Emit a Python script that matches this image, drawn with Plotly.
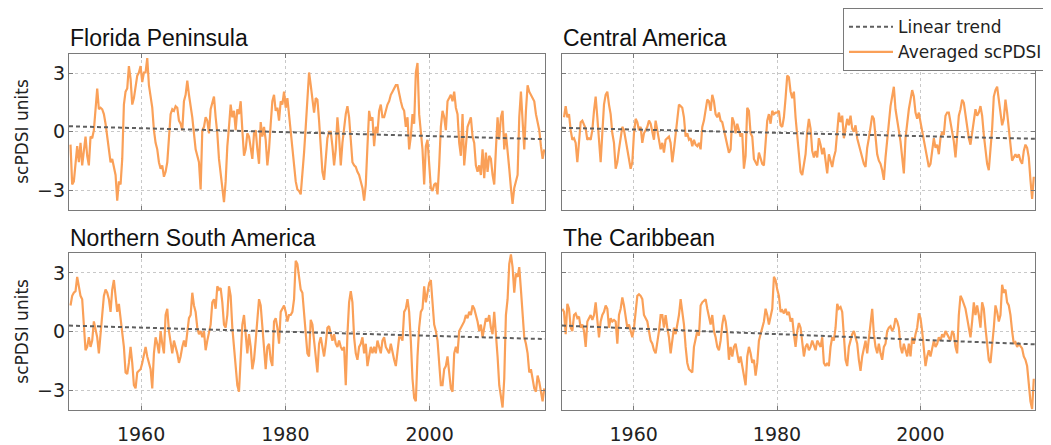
import numpy as np
import plotly.graph_objects as go

# ---------------- data ----------------
years_range = [1950, 2016]
x_ticks = [1960, 1980, 2000]
y_ticks = [-3, 0, 3]
y_ticktext = ["\u22123", "0", "3"]

panel_titles = ["Florida Peninsula", "Central America",
                "Northern South America", "The Caribbean"]

# first / last sample time (decimal year) of each averaged scPDSI series
florida_span = [1950.21, 2015.9]
central_span = [1950.28, 2015.83]
nsa_span = [1950.21, 2015.9]
carib_span = [1950.05, 2015.83]

florida_vals = [
    -0.66, -2.7, -2.54, -1.39, -0.74, -1.56, -0.57, -1.72, -0.9, -0.25, -1.23, -1.72, -0.25, -0.33, 0.08,
    1.15, 2.21, 1.15, 1.23, 1.15, 0.9, 0.41, -0.25, -1.15, -1.56, -1.39, -1.89, -2.21, -3.52, -2.54, -2.7,
    -1.39, 1.39, 2.05, 2.21, 3.36, 2.7, 1.39, 1.72, 2.21, 2.87, 3.03, 3.36, 2.54, 3.03, 3.03, 3.77, 2.38,
    1.89, 1.23, 0.08, -0.57, -0.9, -1.56, -1.89, -1.72, -2.3, -2.05, -1.56, -0.08, 0.9, 1.15, 1.07, 1.31,
    1.23, 0.57, 0.41, 0.08, 1.56, 1.89, 2.62, 1.89, 1.39, 0.74, -0.08, -0.9, -1.23, -1.56, -2.95, 0.08,
    0.25, 0.74, 0.57, -0.08, 1.15, 1.56, 1.8, 0.74, -0.08, -1.39, -2.21, -3.03, -3.6, -2.54, -0.74, 0.25,
    1.39, 0.74, 1.07, 0.08, 1.15, 0.9, 1.56, 0.08, -1.23, -0.9, -0.08, -0.25, -0.74, -1.39, -0.08, 0.08,
    -0.9, -1.64, 0.49, -0.25, 0.25, -0.41, -1.72, -0.9, 0.41, 1.56, 1.89, 1.07, 1.23, 0.57, 1.56, 1.39,
    2.05, 1.23, 1.72, 0.9, -0.08, -0.9, -1.89, -2.54, -2.95, -3.03, -3.2, -2.21, -1.07, 0.25, 1.56, 3.03,
    2.38, 1.56, 0.98, 1.72, 1.64, 0.57, -0.57, -2.05, -2.46, -1.23, -0.33, 0.0, 0.0, -0.74, -1.72, -0.9,
    0.74, -0.25, -1.72, -0.57, 0.25, 0.9, 1.31, 0.74, -0.41, -1.56, -1.72, -1.8, -2.05, -2.21, -2.54,
    -2.87, -3.52, -2.7, -0.74, 1.07, 0.57, 0.74, -0.74, 0.25, -0.08, 1.07, 1.39, 0.74, 0.74, 1.07, 1.39,
    1.56, 1.89, 2.05, 2.21, 2.38, 2.38, 1.89, 1.56, 1.23, 1.07, 0.25, 0.74, -0.9, -0.25, 0.9, 0.41, 3.03,
    3.52, 0.9, -0.08, -0.9, -2.7, -0.74, -0.41, -1.72, -2.87, -3.03, -2.7, -2.62, -3.2, -1.72, 0.25, 1.07,
    0.74, 0.08, 1.56, 1.72, 1.89, 1.56, 2.05, 1.23, 0.9, -0.57, -1.23, 0.9, -1.72, -0.74, 0.25, 0.49,
    0.74, -0.25, -0.57, -1.72, -2.05, -1.72, -2.21, -0.9, -2.38, -1.07, -2.05, -1.23, -1.39, -2.21, -2.7,
    -0.9, 0.74, -0.41, 0.74, 1.07, -0.9, -0.08, -1.23, -1.89, -2.87, -3.69, -2.87, -2.54, -2.21, 0.74,
    2.05, 0.57, -0.9, 1.07, 2.38, 2.05, 1.89, 1.72, 1.56, 0.9, 0.41, 0.08, -0.74, -1.39, -0.9,
]

central_vals = [
    0.74, 1.31, 0.74, 0.9, 0.08, -0.41, -0.33, -0.57, -1.56, -0.57, 0.49, 0.57, 0.33, 0.16, -0.41, -0.33,
    -0.41, 0.08, 1.07, 1.8, 0.74, -0.41, -1.56, -0.08, 1.39, 1.89, 2.05, 1.39, 0.9, -0.08, -0.57, -1.89,
    -1.56, -0.9, -0.25, 0.25, 0.08, -0.41, -0.9, -1.39, -1.89, -1.56, -0.08, 0.66, 0.49, 0.08, 0.25,
    -0.57, -0.08, 0.08, 0.25, 0.57, 0.41, 0.0, -0.41, 0.57, 0.08, -0.25, -0.9, -0.57, -1.07, -0.41, -0.33,
    -0.25, -0.57, -1.56, -0.9, -0.08, 0.74, 1.39, 1.31, 1.23, 0.74, -0.25, -0.08, -0.41, -0.33, -0.74,
    -0.41, -0.66, -0.74, -0.57, -0.9, 0.25, 0.57, 1.07, 1.64, 1.56, 1.07, 1.89, 1.56, 0.9, 0.74, 0.98,
    0.57, 0.49, 0.08, -0.41, -0.74, -1.07, -0.9, 0.74, 0.49, -0.08, 0.41, 0.08, -0.25, -0.08, -1.89,
    -1.23, 1.23, 1.07, -0.08, -0.25, -1.39, -1.56, -1.72, -1.07, -1.39, -1.64, -1.72, -0.25, 0.57, 0.9,
    0.41, 1.07, 0.9, 0.98, 0.98, 1.07, 0.33, 0.25, 0.74, 1.72, 2.87, 2.79, 2.05, 1.72, 2.05, 0.74, -0.25,
    -1.23, -2.05, -2.21, -1.56,
    -1.15, 0.0, 0.66, 0.16, -0.98, -1.31, -0.98, -1.31, -0.33, -0.66, -1.15, -0.82, -1.64, -2.13, -1.15,
    -1.48, -1.8, -1.31, -0.98, 0.0, 0.98, 0.49, 0.82, -0.33, 0.16, 0.66, 0.33, 0.82, 0.16, 0.0, 0.33,
    -0.33, -0.66, -0.98, -1.31, -1.64, -1.8, -0.82, -0.33, 0.33, 0.82, 0.66, -0.33, -1.15, -1.48, -1.64,
    -1.97, -2.46, -1.31, -0.33, 0.66, 1.31, 1.8, 2.3, 1.15, 0.66, 0.0, -0.49, -1.31, -2.13, -0.33, 0.49,
    1.15, 1.64, 2.13, 1.8, 0.98, 0.66, 0.98, 0.49, 0.0, -0.49, -0.82, -1.31, -1.8, -1.64, -0.98, -0.33,
    -0.82, -0.66, -1.15, -0.33, 0.0, -0.16, 0.82, 0.98, 0.98, 0.49, 0.0, -0.49, -1.31, 0.0, 0.82, 1.15,
    1.64, 1.48, 0.82, 0.33, -0.33, -0.66, 0.0, 0.66, 1.15, 0.82, 0.98, 1.31, 0.82, -0.16, -0.82, -1.64,
    -1.97, -0.98, 0.16, 1.8, 2.13, 2.3, 1.64, 0.98, 0.33, 0.66, 1.64, 0.98, 0.16, -0.33, -1.48, -1.31,
    -1.15, -1.31, -1.15, -1.48, -1.64, -0.98, -0.66, -0.82, -1.31, -2.46, -3.44, -2.3,
]

nsa_vals = [
    1.34, 1.83, 1.99, 2.07, 2.8, 2.32, 1.83, 1.66, 0.03, -0.95, -0.78, -0.29, -0.78, -0.46, 0.52, 0.03,
    -0.29, -1.11, -0.29, 0.85, 1.83, 2.15, 1.99, 1.66, 1.01, 2.15, 2.64, 1.66, 1.01, 1.42, 0.69, 0.03,
    -0.78, -2.09, -2.17, -1.6, -0.78, -1.6, -2.74, -2.9, -2.09, -2.0, -1.92, -1.6, -1.11, -0.78, -1.27,
    -1.6, -1.92, -2.9, -1.11, -0.29, -0.62, -1.11, 0.03, -0.62, -1.11, 0.85, 1.17, 0.03, -0.62, -1.11,
    -0.46, -0.78, -1.11, -1.6, -1.27, -0.78, -0.46, -0.78, -0.13, 0.69, 0.85, 1.99, 1.34, 1.01, 0.2,
    -0.13, 0.03, -0.29, 0.03, -0.95, -0.46, 0.03, 0.36, 1.5, 1.66, 1.17, 2.32, 2.15, 2.23, 1.5, 0.36,
    0.2, 0.85, 2.32, 1.83, 0.2, -0.78, -1.92, -2.74, -3.07, -1.27, 0.36, 0.85, -0.13, -1.11, -0.13,
    -0.78, -1.92, -1.44, -0.46, 0.85, 1.66, 1.34, 0.36, -0.95, -1.92, -0.78, -0.62, -1.44, -1.76, 0.52,
    0.69, 0.2, -0.62, 1.01, 1.17, 1.34, 1.01, 0.52, 0.85, 0.85, 1.01, 1.66, 3.62, 3.46, 2.8, 2.15, 1.99,
    0.85, -0.46, -1.11, -1.27,
    0.6, 0.36, -0.46, -1.11, -2.09, -0.62, -0.29, -0.78, -1.27, -0.62, 0.2, 0.28, -0.13, -0.46, -0.13,
    -0.62, -0.78, -0.46, -0.78, -0.95, -0.78, -2.74, -0.13, 1.5, 2.07, 1.5, -0.29, -1.11, -1.44, -0.78,
    -0.62, -0.29, -1.11, -0.62, -1.76, -1.27, -0.78, -1.11, -0.78, -1.11, -0.46, -0.78, -1.11, -0.46,
    -0.29, -0.78, -0.95, -1.11, -0.62, -1.11, -1.44, -1.76, -0.95, -0.29, -0.29, -0.46, 1.01, 1.17, 1.66,
    1.01, -0.46, -2.41, -3.39, -3.56, -1.27, 0.2, 1.01, 1.17, 2.32, 1.5, 1.99, 2.48, 2.64, 1.5, 0.36,
    0.03, -0.46, -1.6, -2.74, -2.74, -1.92, -1.76, -1.27, -2.09, -2.9, -3.07, -1.11, -0.78, -1.11, 0.03,
    0.2, 0.36, 0.52, 0.85, 0.69, 1.01, 0.85, 1.34, 1.17, 0.85, 0.52, 0.03, 0.36, -0.29, 0.2, 0.69, 0.52,
    0.85, 0.2, -0.13, 1.01, 0.03, -1.27, -2.74, -3.39, -3.88, -2.41, 0.85, 1.66, 3.46, 3.95, 3.3, 1.99,
    2.97, 2.8, 3.3, 2.15, 1.01, -0.29, -0.62, -1.11, -2.09, -1.92, -2.41, -2.9, -3.07, -2.25, -2.58,
    -3.07, -3.56, -2.9,
]

carib_vals = [
    1.17, 1.01, -0.13, 1.42, 1.17, 0.2, 0.03, 0.85, 0.93, 0.69, 0.77, 0.2, 0.36, 0.03, -0.78, 0.52, 0.69,
    0.85, 0.6, 0.85, 1.5, 0.69, -0.29, 0.52, 0.85, 1.01, 1.34, 1.17, 0.2, 0.69, 0.52, 0.6, 0.52, -0.62,
    0.85, 1.17, 1.75, 1.34, 0.85, 0.2, 0.36, 0.03, -0.29, 0.2, 1.17, 1.83, 1.91, 1.83, 1.66, 0.85, 0.69,
    0.52, 0.03, -0.46, -0.62, -0.95, -1.11, -0.62, 0.03, 0.85, 0.85, 0.2, 0.85, 0.2, -0.29, -1.11, -0.46,
    0.2, -0.13, 0.36, 0.85, 1.66, 1.01, 0.36, -0.78, -1.6, -1.92, -2.0, -2.09, -0.78, -0.29, 0.03, -0.21,
    1.34, 1.5, 1.58, 1.66, 1.17, 0.69, 0.36, 0.85, 0.03, -0.29, -0.78, -0.95, -0.46, 0.36, 0.85, 0.52,
    -0.13, -1.44, -0.78, -1.27, -0.78, -0.62, -1.11, -1.6, -1.27, -1.76, -2.41, -2.74, -1.27, -0.78,
    -1.11, -1.6, -1.44, -2.25, -1.6, -0.46, -0.13, 0.2, 0.52, 1.17, 0.85, 0.36, 0.85, 1.17, 2.8, 2.64,
    2.15, 1.83, 1.01, 1.09, 0.93, 1.17, 0.85, 1.01, 0.52, 0.69, -0.13, -0.78, 0.03, 0.44, 0.2, -0.46,
    -1.27,
    -0.78, -0.62, -0.95, -0.78, -0.46, -0.78, -0.95, -0.46, -0.62, -0.78, -0.29, -1.6, -1.76, -1.6, -1.76,
    -0.78, -0.29, -0.46, 0.2, 1.42, 1.17, 1.26, 1.01, -0.29, -1.44, -1.76, -0.78, -0.46, -0.13, 0.03,
    -0.29, -0.62, -1.44, -2.0, -1.27, -0.78, -0.46, -1.11, -0.29, 0.36, 1.17, -0.13, -0.78, -1.11, -0.62,
    -1.11, -1.44, -0.78, -0.62, 0.03, 0.2, 0.28, 0.03, 0.2, 0.69, 0.52, 0.2, -0.78, -1.11, -0.62, -0.95,
    -1.27, -0.62, -1.27, -0.29, -0.62, -0.13, 0.2, 0.93, 0.69, 0.03, -0.78, -1.76, -1.27, -0.95, -1.27,
    -0.78, -0.46, -0.78, -0.62, -0.29, -0.46, -0.13, -0.29, 0.03, -0.13, -0.29, -0.46, 0.03, -0.13, -0.78,
    -1.11, 0.85, 1.83, 1.66, 1.34, 1.17, 0.69, 0.2, -0.29, 0.52, 1.5, 0.85, 1.34, 0.85, 0.2, 1.5, 1.17,
    0.2, -0.78, -1.44, -1.6, -0.78, 0.2, 1.34, 1.01, 0.52, 0.85, 2.4, 1.99, 2.15, 1.5, 1.34, 0.85, 0.03,
    -0.62, -0.54, -0.78, -0.62, -0.78, -0.86, -1.27, -1.44, -1.76, -2.58, -3.56, -3.96, -2.41,
]

# linear trend, value at 1950 and at 2016
florida_trend = [0.28, -0.38]
central_trend = [0.2, -0.36]
nsa_trend = [0.31, -0.38]
carib_trend = [0.31, -0.65]

# ---------------- figure ----------------
OFF = 8                      # default page-body margin of the html page
W, H = 1051 - OFF, 445 - OFF
ORANGE = "rgb(250,160,88)"
TREND = "#5f5f5f"

panels = [
    (florida_vals, florida_span, florida_trend),
    (central_vals, central_span, central_trend),
    (nsa_vals, nsa_span, nsa_trend),
    (carib_vals, carib_span, carib_trend),
]

# window-pixel boxes of the four plot areas (left, right, top, bottom)
boxes = [(69, 545, 51, 213), (562, 1035, 51, 213),
         (69, 545, 258, 420), (562, 1035, 258, 420)]


def px(v):
    return (v - OFF) / W


def py(v):
    return 1 - (v - OFF) / H


fig = go.Figure()
for i, (vals, span, trend) in enumerate(panels):
    sfx = "" if i == 0 else str(i + 1)
    t = np.linspace(span[0], span[1], len(vals))
    fig.add_trace(go.Scatter(
        x=t, y=vals, mode="lines", name="Averaged scPDSI",
        line=dict(color=ORANGE, width=2.2),
        xaxis="x" + sfx, yaxis="y" + sfx,
        showlegend=(i == 0), legendrank=2, hoverinfo="skip"))
    fig.add_trace(go.Scatter(
        x=years_range, y=trend, mode="lines", name="Linear trend",
        line=dict(color=TREND, width=2, dash="4px,3px"),
        xaxis="x" + sfx, yaxis="y" + sfx,
        showlegend=(i == 0), legendrank=1, hoverinfo="skip"))

axis_common = dict(
    showline=True, linecolor="#7a7a7a", linewidth=1.3, mirror="ticks",
    ticks="inside", ticklen=4, tickcolor="#7a7a7a",
    showgrid=True, gridcolor="#c8c8c8", griddash="dot", gridwidth=1,
    zeroline=False, fixedrange=True,
    tickfont=dict(family="DejaVu Sans", size=19, color="#222"),
)

layout = dict(
    width=W, height=H, margin=dict(l=0, r=0, t=0, b=0),
    paper_bgcolor="white", plot_bgcolor="white",
    showlegend=True,
    legend=dict(
        x=px(843), y=py(4), xanchor="left", yanchor="top",
        bgcolor="white", bordercolor="#7a7a7a", borderwidth=1,
        font=dict(family="DejaVu Sans", size=17, color="#222"),
        traceorder="normal", itemwidth=44,
    ),
)

for i, (l, r, tp, bt) in enumerate(boxes):
    sfx = "" if i == 0 else str(i + 1)
    layout["xaxis" + sfx] = dict(
        axis_common, domain=[px(l), px(r)], range=years_range, anchor="y" + sfx,
        tickvals=x_ticks, showticklabels=(i >= 2), ticklabelstandoff=7)
    layout["yaxis" + sfx] = dict(
        axis_common, domain=[py(bt), py(tp)], range=[-4, 4], anchor="x" + sfx,
        tickvals=y_ticks, ticktext=y_ticktext, showticklabels=(i % 2 == 0),
        ticklabelstandoff=-1)

fig.update_layout(**layout)

# panel titles
for i, (l, r, tp, bt) in enumerate(boxes):
    fig.add_annotation(
        text=panel_titles[i], xref="paper", yref="paper",
        x=px(l - 1), y=py(tp - 16), xanchor="left", yanchor="middle",
        showarrow=False, font=dict(family="Liberation Sans", size=23, color="#111"))

# y-axis titles
for i in (0, 2):
    l, r, tp, bt = boxes[i]
    fig.add_annotation(
        text="scPDSI units", xref="paper", yref="paper",
        x=px(22), y=py((tp + bt) / 2), xanchor="center", yanchor="middle",
        textangle=-90, showarrow=False,
        font=dict(family="DejaVu Sans", size=17, color="#222"))

fig.write_html("out.html")
